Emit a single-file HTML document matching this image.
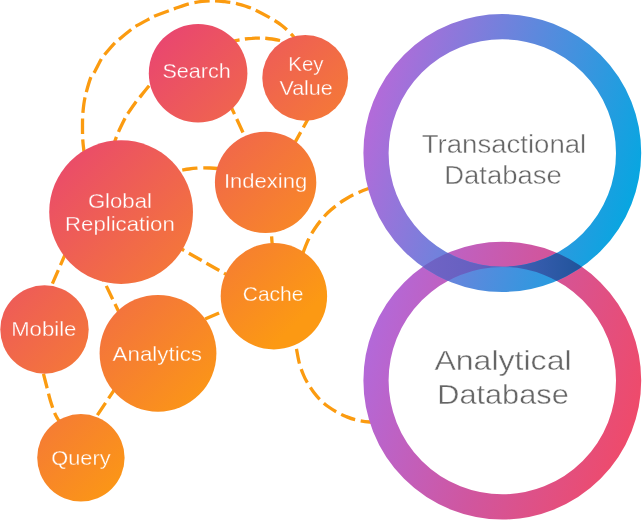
<!DOCTYPE html>
<html>
<head>
<meta charset="utf-8">
<title>Database capabilities diagram</title>
<style>
  html, body { margin: 0; padding: 0; background: #ffffff; }
  body { width: 642px; height: 520px; overflow: hidden; font-family: "Liberation Sans", sans-serif; }
  svg { display: block; will-change: transform; }
  .lbl text { font-family: "Liberation Sans", sans-serif; font-size: 20.4px; fill: #ffffff; stroke: url(#gb); stroke-width: 0.3; }
  .big text { font-family: "Liberation Sans", sans-serif; fill: #666666; stroke: #ffffff; stroke-width: 0.4; }
  .dash path { fill: none; stroke: #fb9b10; stroke-width: 3.3; stroke-dasharray: 14.8 5.4; }
</style>
</head>
<body>
<svg width="642" height="520" viewBox="0 0 642 520">
  <defs>
    <linearGradient id="gb" gradientUnits="userSpaceOnUse" x1="100" y1="100" x2="310" y2="310">
      <stop offset="0" stop-color="#e9476f"/>
      <stop offset="1" stop-color="#fc9913"/>
    </linearGradient>
    <linearGradient id="gt" gradientUnits="userSpaceOnUse" x1="364" y1="120" x2="642" y2="200">
      <stop offset="0" stop-color="#b56ad9"/>
      <stop offset="1" stop-color="#02a8e1"/>
    </linearGradient>
    <linearGradient id="ga" gradientUnits="userSpaceOnUse" x1="364" y1="340" x2="642" y2="420">
      <stop offset="0" stop-color="#b269db"/>
      <stop offset="0.5" stop-color="#d0569f"/>
      <stop offset="1" stop-color="#f04a68"/>
    </linearGradient>
    <linearGradient id="gx" gradientUnits="userSpaceOnUse" x1="425" y1="0" x2="582" y2="0">
      <stop offset="0" stop-color="#7063c5"/>
      <stop offset="0.35" stop-color="#6560c0"/>
      <stop offset="0.65" stop-color="#3a5db0"/>
      <stop offset="1" stop-color="#20549b"/>
    </linearGradient>
    <clipPath id="blueRing">
      <path clip-rule="evenodd" d="M363.4 153a138.9 138.9 0 1 0 277.8 0a138.9 138.9 0 1 0 -277.8 0Z M388.6 153a113.7 113.7 0 1 0 227.4 0a113.7 113.7 0 1 0 -227.4 0Z"/>
    </clipPath>
  </defs>

  <!-- dashed connectors -->
  <g class="dash">
    <path id="bigarc" d="M85.0 158.0 C84.8 156.7 84.2 153.2 83.8 150.0 C83.4 146.8 82.9 142.8 82.7 138.8 C82.5 134.8 82.5 130.3 82.5 126.0 C82.5 121.7 82.5 117.7 82.9 112.9 C83.3 108.2 83.7 103.4 85.0 97.5 C86.3 91.6 89.2 81.5 90.8 77.3 C92.3 73.1 92.5 75.5 94.3 72.4 C96.1 69.3 99.6 61.9 101.4 58.9 C103.2 55.9 102.7 56.9 104.9 54.2 C107.2 51.5 112.5 45.3 114.9 42.8 C117.4 40.2 116.8 41.1 119.6 38.9 C122.3 36.6 128.6 31.5 131.4 29.3 C134.2 27.1 133.7 27.5 136.7 25.7 C139.7 23.9 146.6 20.3 149.6 18.7 C152.6 17.1 151.6 17.4 154.8 16.0 C158.1 14.7 165.8 11.8 169.1 10.6 C172.4 9.4 171.2 9.7 174.6 8.6 C178.0 7.5 184.7 5.0 189.3 3.8 C193.9 2.6 198.1 1.9 202.0 1.4 C205.9 0.9 209.2 0.7 212.8 0.7 C216.4 0.7 219.6 1.0 223.6 1.5 C227.6 2.0 232.2 2.5 236.9 3.7 C241.6 4.9 246.4 6.1 251.9 8.4 C257.4 10.8 264.9 14.9 270.0 17.8 C275.1 20.7 278.7 23.0 282.5 26.0 C286.3 29.0 290.4 33.2 293.0 36.0 C295.6 38.8 297.2 41.8 298.0 43.0" style="stroke-dasharray:15.6 5.5;stroke-dashoffset:18.0"/>
    <path id="inner" d="M113.2 147.0 C113.5 145.9 114.2 143.0 115.1 140.5 C116.0 138.0 116.9 135.5 118.5 131.8 C120.1 128.1 123.4 121.5 124.9 118.5 C126.4 115.5 125.8 116.6 127.7 113.8 C129.6 111.0 134.2 104.2 136.2 101.5 C138.2 98.8 137.5 100.1 139.7 97.4 C141.9 94.7 146.9 88.3 149.5 85.4 C152.1 82.5 154.1 80.9 155.0 80.0" style="stroke-dasharray:14.9 5.4;stroke-dashoffset:4.2"/>
    <path id="s_kv" d="M228.0 43.0 C229.3 42.6 232.8 41.3 235.6 40.6 C238.4 39.9 242.2 39.4 244.9 39.0 C247.6 38.6 249.6 38.4 252.0 38.3 C254.4 38.1 257.4 38.1 259.6 38.1 C261.8 38.1 263.0 38.1 265.1 38.2 C267.2 38.4 269.4 38.6 272.0 39.0 C274.6 39.4 277.5 39.9 280.5 40.6 C283.5 41.4 288.4 43.0 290.0 43.5" style="stroke-dasharray:15.0 5.4;stroke-dashoffset:3.0"/>
    <path id="s_ix" d="M229.3 103.0 L246.0 139.0" style="stroke-dashoffset:2.5"/>
    <path id="kv_ix" d="M310.5 114.5 L293.0 146.0" style="stroke-dashoffset:20.2"/>
    <path id="g_ix" d="M176.0 171.6 C176.9 171.4 179.3 170.7 181.5 170.3 C183.7 169.9 186.5 169.3 189.0 169.0 C191.5 168.7 194.3 168.4 196.7 168.2 C199.1 168.0 201.1 167.9 203.3 167.9 C205.5 167.9 207.7 167.9 210.0 168.0 C212.3 168.1 215.4 168.3 217.4 168.5 C219.4 168.7 221.2 169.1 222.0 169.2" style="stroke-dasharray:15.2 5.9;stroke-dashoffset:14.6"/>
    <path id="ix_c" d="M271.6 236.3 L272.3 246.0" style="stroke-dasharray:none"/>
    <path id="g_c" d="M176.0 245.9 L230.0 276.6" style="stroke-dashoffset:5.4"/>
    <path id="g_m" d="M67.5 249.0 L50.5 288.0" style="stroke-dashoffset:17.4"/>
    <path id="g_a" d="M103.0 279.0 L120.5 315.5" style="stroke-dashoffset:12.6"/>
    <path id="a_c" d="M205.1 319.1 L219.1 312.9" style="stroke-dasharray:none"/>
    <path id="m_q" d="M42.0 368.0 C42.2 368.9 42.5 370.2 43.4 373.5 C44.2 376.8 45.9 383.4 47.1 388.0 C48.3 392.6 49.2 396.8 50.5 401.0 C51.8 405.2 53.5 410.2 54.8 413.3 C56.1 416.4 57.3 418.0 58.3 419.8 C59.2 421.6 60.1 423.3 60.5 424.0" style="stroke-dashoffset:14.1"/>
    <path id="a_q" d="M117.5 385.0 L93.5 421.0" style="stroke-dashoffset:18.9"/>
    <path id="c_t" d="M301.0 260.0 C301.5 258.5 302.5 254.3 303.8 250.8 C305.1 247.3 307.0 242.4 308.8 238.8 C310.6 235.2 312.5 232.1 314.5 229.0 C316.5 225.9 318.6 223.2 320.8 220.4 C323.1 217.7 325.4 215.0 328.0 212.5 C330.6 210.0 333.4 207.8 336.2 205.6 C339.0 203.4 341.9 201.4 345.0 199.5 C348.1 197.6 351.2 195.8 355.0 194.0 C358.8 192.2 364.4 190.0 367.9 188.7 C371.4 187.4 374.6 186.4 376.0 186.0" style="stroke-dasharray:15.4 5.8;stroke-dashoffset:13.8"/>
    <path id="c_a" d="M295.5 343.0 C295.7 344.0 295.8 345.5 296.5 349.0 C297.2 352.5 298.3 359.5 299.5 363.8 C300.7 368.1 302.2 371.8 303.5 375.0 C304.8 378.2 305.8 380.1 307.5 382.9 C309.2 385.7 311.4 389.2 313.5 392.0 C315.6 394.8 317.8 397.4 320.2 399.8 C322.6 402.2 325.2 404.5 328.0 406.5 C330.8 408.5 333.7 410.3 336.7 412.0 C339.7 413.7 342.8 415.2 346.0 416.5 C349.2 417.8 352.1 419.0 356.1 419.9 C360.1 420.8 366.4 421.6 369.9 422.0 C373.4 422.4 375.8 422.4 377.0 422.5" style="stroke-dasharray:15.0 5.7;stroke-dashoffset:14.7"/>
  </g>

  <!-- bubbles -->
  <g fill="url(#gb)">
    <circle cx="198.1" cy="73.2" r="49.3"/>
    <circle cx="305.2" cy="77.9" r="42.9"/>
    <circle cx="121.1" cy="212.1" r="71.9"/>
    <circle cx="265.6" cy="182.4" r="50.7"/>
    <circle cx="273.9" cy="296.2" r="53.2"/>
    <circle cx="44.5" cy="329.5" r="44.2"/>
    <circle cx="158" cy="353.3" r="58.4"/>
    <circle cx="80.9" cy="457.8" r="43.7"/>
  </g>

  <!-- rings -->
  <circle cx="502.3" cy="380.6" r="126.3" fill="none" stroke="url(#ga)" stroke-width="25.2"/>
  <circle cx="502.3" cy="153" r="126.3" fill="none" stroke="url(#gt)" stroke-width="25.2"/>
  <g clip-path="url(#blueRing)">
    <circle cx="502.3" cy="380.6" r="126.3" fill="none" stroke="url(#gx)" stroke-width="25.2"/>
  </g>

  <!-- bubble labels -->
  <g class="lbl">
    <text x="162.4" y="77.8" textLength="68.4" lengthAdjust="spacingAndGlyphs">Search</text>
    <text x="288.3" y="71.2" textLength="35.2" lengthAdjust="spacingAndGlyphs">Key</text>
    <text x="279.4" y="94.8" textLength="53.4" lengthAdjust="spacingAndGlyphs">Value</text>
    <text x="87.9" y="207.5" textLength="64.0" lengthAdjust="spacingAndGlyphs">Global</text>
    <text x="65.1" y="231.0" textLength="109.7" lengthAdjust="spacingAndGlyphs">Replication</text>
    <text x="223.9" y="188.0" textLength="83.4" lengthAdjust="spacingAndGlyphs">Indexing</text>
    <text x="242.8" y="301.4" textLength="60.6" lengthAdjust="spacingAndGlyphs">Cache</text>
    <text x="11.2" y="336.0" textLength="65.2" lengthAdjust="spacingAndGlyphs">Mobile</text>
    <text x="112.6" y="361.1" textLength="89.4" lengthAdjust="spacingAndGlyphs">Analytics</text>
    <text x="51.2" y="465.0" textLength="59.4" lengthAdjust="spacingAndGlyphs">Query</text>
  </g>

  <!-- ring labels -->
  <g class="big">
    <text x="421.8" y="153.3" font-size="25" textLength="164.4" lengthAdjust="spacingAndGlyphs">Transactional</text>
    <text x="444.2" y="183.9" font-size="25" textLength="117.6" lengthAdjust="spacingAndGlyphs">Database</text>
    <text x="434.4" y="370.3" font-size="27.3" textLength="137.2" lengthAdjust="spacingAndGlyphs">Analytical</text>
    <text x="437.2" y="404.1" font-size="27.3" textLength="131.6" lengthAdjust="spacingAndGlyphs">Database</text>
  </g>
</svg>
</body>
</html>
